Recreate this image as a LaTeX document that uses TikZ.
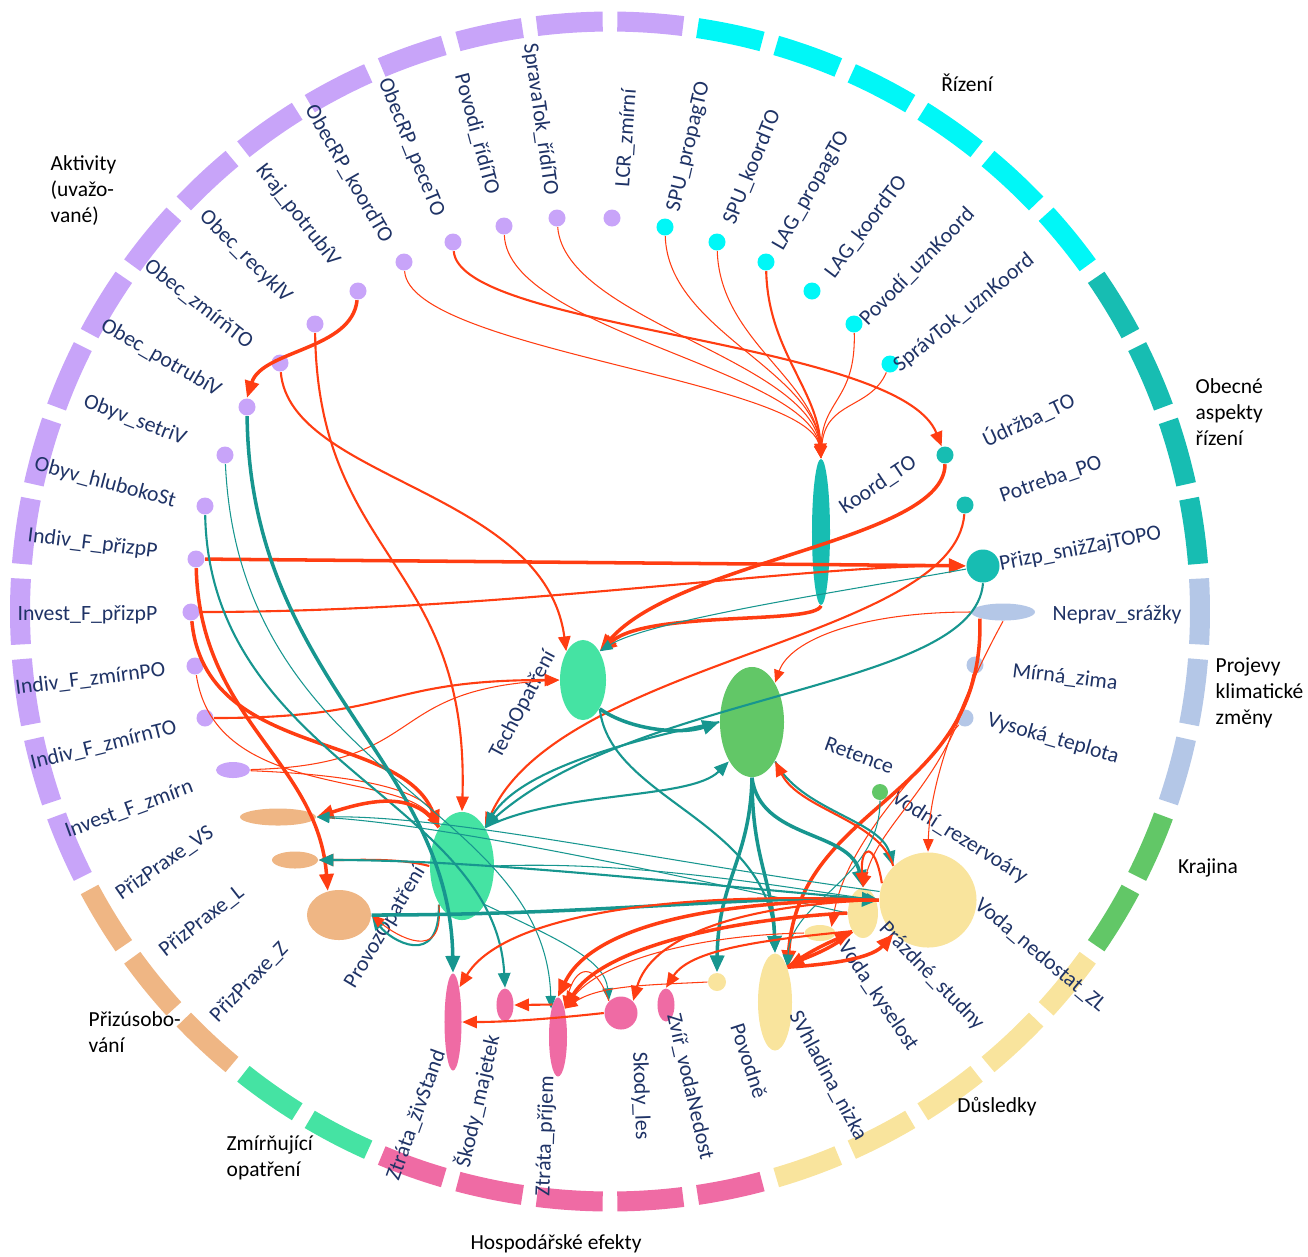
\documentclass[tikz,border=0pt]{standalone}
\usepackage{fontspec}
\setmainfont{Carlito}
\usetikzlibrary{arrows.meta,shapes.geometric}

\definecolor{akt}{HTML}{C8A4F9}
\definecolor{riz}{HTML}{00F7F7}
\definecolor{obe}{HTML}{17BDB2}
\definecolor{pro}{HTML}{B4C7E7}
\definecolor{kra}{HTML}{62C767}
\definecolor{dus}{HTML}{F9E49D}
\definecolor{hos}{HTML}{EF6BA4}
\definecolor{zmi}{HTML}{45E3A3}
\definecolor{pri}{HTML}{EFB684}
\definecolor{lblnavy}{HTML}{1F3366}
\definecolor{redE}{HTML}{FF3D12}
\definecolor{tealE}{HTML}{17968F}

\begin{document}
\begin{tikzpicture}[x=0.01cm, y=-0.01cm,
    lbl/.style={font=\fontsize{6.2}{7}\selectfont, text=lblnavy, inner sep=0pt},
    cat/.style={font=\fontsize{6.1}{7.4}\selectfont, align=left, inner sep=0pt},
    dot/.style={circle, inner sep=0pt, minimum size=0.17cm},
    oval/.style={ellipse, inner sep=0pt},
    redS/.style={draw=redE, line width=0.3pt, -{Triangle[length=3.6pt,width=3pt]}},
    redM/.style={draw=redE, line width=0.6pt, -{Triangle[length=4.2pt,width=3.5pt]}},
    redL/.style={draw=redE, line width=1pt, -{Triangle[length=4.8pt,width=4pt]}},
    tealS/.style={draw=tealE, line width=0.3pt, -{Triangle[length=3.6pt,width=3pt]}},
    tealM/.style={draw=tealE, line width=0.6pt, -{Triangle[length=4.2pt,width=3.5pt]}},
    tealL/.style={draw=tealE, line width=1pt, -{Triangle[length=4.8pt,width=4pt]}}]

    \useasboundingbox (0,0) rectangle (1308,1256);

    % Outer ring of dashes
    \foreach \ka/\kb/\col in {0/0/pro, 1/4/obe, 5/10/riz, 11/26/akt, 27/29/pri,
                              30/31/zmi, 32/36/hos, 37/41/dus, 42/43/kra, 44/45/pro}{
        \foreach \k in {\ka,...,\kb}{
            \pgfmathsetmacro{\a}{-\k*360/46}
            \draw[line width=0.2cm, draw=\col] (610,611.5) ++(\a+3.2:590)
                arc[start angle=\a+3.2, end angle=\a-3.2, radius=590];
        }
    }

    % Group names
    \node[cat, anchor=north west] (c-akt) at (50,155) {Aktivity\\(uvažo-\\vané)};
    \node[cat] (c-riz) at (967,83) {Řízení};
    \node[cat, anchor=north west] (c-obe) at (1195,378) {Obecné\\aspekty\\řízení};
    \node[cat, anchor=north west] (c-pro) at (1215,657) {Projevy\\klimatické\\změny};
    \node[cat] (c-kra) at (1208,868) {Krajina};
    \node[cat] (c-dus) at (997,1107) {Důsledky};
    \node[cat] (c-hos) at (556,1244) {Hospodářské efekty};
    \node[cat, anchor=north west] (c-zmi) at (226,1135) {Zmírňující\\opatření};
    \node[cat, anchor=north west] (c-pri) at (88,1011) {Přizúsobo-\\vání};

    % Aktivity
    \node[dot, fill=akt] (lcr) at (612,218) {};
    \node[dot, fill=akt] (spravatok) at (557,218) {};
    \node[dot, fill=akt] (povodi) at (504,226) {};
    \node[dot, fill=akt] (pece) at (453,242) {};
    \node[dot, fill=akt] (obkoord) at (404,262) {};
    \node[dot, fill=akt] (krajpot) at (358,291) {};
    \node[dot, fill=akt] (obrec) at (315,324) {};
    \node[dot, fill=akt] (obzmir) at (280,363) {};
    \node[dot, fill=akt] (obpot) at (247,407) {};
    \node[dot, fill=akt] (obsetri) at (225,455) {};
    \node[dot, fill=akt] (obhlub) at (205,506) {};
    \node[dot, fill=akt] (indprizp) at (196,559) {};
    \node[dot, fill=akt] (invprizp) at (191,612) {};
    \node[dot, fill=akt] (indzmpo) at (195,666) {};
    \node[dot, fill=akt] (indzmto) at (205,718) {};
    \node[oval, fill=akt, minimum width=0.34cm, minimum height=0.16cm] (invzmir) at (233,770) {};

    % Rizeni
    \node[dot, fill=riz] (spuprop) at (665,227) {};
    \node[dot, fill=riz] (spukoord) at (717,242) {};
    \node[dot, fill=riz] (lagprop) at (766,262) {};
    \node[dot, fill=riz] (lagkoord) at (812,291) {};
    \node[dot, fill=riz] (povuzn) at (854,324) {};
    \node[dot, fill=riz] (spruzn) at (890,364) {};

    % Obecne aspekty rizeni
    \node[oval, fill=obe, minimum width=0.18cm, minimum height=1.46cm] (koord) at (821,532) {};
    \node[dot, fill=obe] (udrzba) at (945,455) {};
    \node[dot, fill=obe] (potreba) at (965,505) {};
    \node[dot, fill=obe, minimum size=0.33cm] (prizsniz) at (983,566) {};

    % Projevy klimaticke zmeny
    \node[oval, fill=pro, minimum width=0.64cm, minimum height=0.17cm] (neprav) at (1003,612) {};
    \node[dot, fill=pro] (mirna) at (975,665) {};
    \node[dot, fill=pro] (vysoka) at (965,718) {};

    % Krajina
    \node[oval, fill=kra, minimum width=0.64cm, minimum height=1.1cm] (retence) at (752,722) {};
    \node[dot, fill=kra, minimum size=0.16cm] (vodrez) at (880,792) {};

    % Dusledky
    \node[oval, fill=dus, minimum width=0.97cm, minimum height=0.95cm] (vodanedost) at (928,900) {};
    \node[oval, fill=dus, minimum width=0.3cm, minimum height=0.5cm] (prazdne) at (863,913) {};
    \node[oval, fill=dus, minimum width=0.31cm, minimum height=0.16cm] (kyselost) at (820,933) {};
    \node[oval, fill=dus, minimum width=0.34cm, minimum height=0.97cm] (svhl) at (775,1002) {};
    \node[dot, fill=dus, minimum size=0.18cm] (povodne) at (717,982) {};

    % Hospodarske efekty
    \node[oval, fill=hos, minimum width=0.17cm, minimum height=0.33cm] (zvir) at (666,1005) {};
    \node[dot, fill=hos, minimum size=0.33cm] (les) at (621,1013) {};
    \node[oval, fill=hos, minimum width=0.18cm, minimum height=0.79cm] (prijem) at (558,1037) {};
    \node[oval, fill=hos, minimum width=0.17cm, minimum height=0.33cm] (majetek) at (505,1005) {};
    \node[oval, fill=hos, minimum width=0.17cm, minimum height=0.97cm] (zivstand) at (453,1022) {};

    % Zmirnujici opatreni
    \node[oval, fill=zmi, minimum width=0.46cm, minimum height=0.8cm] (tech) at (583,680) {};
    \node[oval, fill=zmi, minimum width=0.64cm, minimum height=1.08cm] (provoz) at (462,866) {};

    % Prizpusobovani
    \node[oval, fill=pri, minimum width=0.76cm, minimum height=0.17cm] (prizvs) at (278,817) {};
    \node[oval, fill=pri, minimum width=0.46cm, minimum height=0.17cm] (prizl) at (295,860) {};
    \node[oval, fill=pri, minimum width=0.64cm, minimum height=0.5cm] (prizz) at (339,915) {};

    % Node labels
    \node[lbl, rotate=86, anchor=west] (l-lcr) at (623,188) {LCR\_zmírní};
    \node[lbl, rotate=-82, anchor=east] (l-spravatok) at (551,196) {SpravaTok\_řídíTO};
    \node[lbl, rotate=-75, anchor=east] (l-povodi) at (493,195) {Povodi\_řídíTO};
    \node[lbl, rotate=-68, anchor=east] (l-pece) at (439,216) {ObecRP\_peceTO};
    \node[lbl, rotate=-60, anchor=east] (l-obkoord) at (388,242) {ObecRP\_koordTO};
    \node[lbl, rotate=-52, anchor=east] (l-krajpot) at (336,264) {Kraj\_potrubíV};
    \node[lbl, rotate=-45, anchor=east] (l-obrec) at (289,300) {Obec\_recyklV};
    \node[lbl, rotate=-38, anchor=east] (l-obzmir) at (251,345) {Obec\_zmírňTO};
    \node[lbl, rotate=-30, anchor=east] (l-obpot) at (220,392) {Obec\_potrubíV};
    \node[lbl, rotate=-21, anchor=east] (l-obsetri) at (186,440) {Obyv\_setriV};
    \node[lbl, rotate=-15, anchor=east] (l-obhlub) at (176,502) {Obyv\_hlubokoSt};
    \node[lbl, rotate=-7, anchor=east] (l-indprizp) at (158,552) {Indiv\_F\_přizpP};
    \node[lbl, anchor=east] (l-invprizp) at (158,615) {Invest\_F\_přizpP};
    \node[lbl, rotate=7, anchor=east] (l-indzmpo) at (166,670) {Indiv\_F\_zmírnPO};
    \node[lbl, rotate=14, anchor=east] (l-indzmto) at (177,727) {Indiv\_F\_zmírnTO};
    \node[lbl, rotate=20, anchor=east] (l-invzmir) at (193,786) {Invest\_F\_zmírn};
    \node[lbl, rotate=77, anchor=west] (l-spuprop) at (674,212) {SPU\_propagTO};
    \node[lbl, rotate=68, anchor=west] (l-spukoord) at (729,224) {SPU\_koordTO};
    \node[lbl, rotate=60, anchor=west] (l-lagprop) at (778,249) {LAG\_propagTO};
    \node[lbl, rotate=53, anchor=west] (l-lagkoord) at (829,276) {LAG\_koordTO};
    \node[lbl, rotate=46, anchor=west] (l-povuzn) at (863,323) {Povodí\_uznKoord};
    \node[lbl, rotate=39, anchor=west] (l-spruzn) at (896,368) {SprávTok\_uznKoord};
    \node[lbl, rotate=34, anchor=west] (l-koord) at (841,510) {Koord\_TO};
    \node[lbl, rotate=25, anchor=west] (l-udrzba) at (983,441) {Údržba\_TO};
    \node[lbl, rotate=19, anchor=west] (l-potreba) at (1000,497) {Potreba\_PO};
    \node[lbl, rotate=11, anchor=west] (l-prizsniz) at (999,565) {Přizp\_snižZajTOPO};
    \node[lbl, anchor=west] (l-neprav) at (1052,615) {Neprav\_srážky};
    \node[lbl, rotate=-7, anchor=west] (l-mirna) at (1012,671) {Mírná\_zima};
    \node[lbl, rotate=-16, anchor=west] (l-vysoka) at (987,720) {Vysoká\_teplota};
    \node[lbl, rotate=-20, anchor=west] (l-retence) at (825,743) {Retence};
    \node[lbl, rotate=-32, anchor=west] (l-vodrez) at (893,796) {Vodní\_rezervoáry};
    \node[lbl, rotate=-40, anchor=west] (l-vodanedost) at (977,902) {Voda\_nedostat\_ZL};
    \node[lbl, rotate=-46, anchor=west] (l-prazdne) at (882,925) {Prázdné\_studny};
    \node[lbl, rotate=-56, anchor=west] (l-kyselost) at (842,943) {Voda\_kyselost};
    \node[lbl, rotate=-62, anchor=west] (l-svhl) at (794,1012) {SVhladina\_nizka};
    \node[lbl, rotate=-72, anchor=west] (l-povodne) at (737,1023) {Povodně};
    \node[lbl, rotate=-77, anchor=west] (l-zvir) at (673,1013) {Zvíř\_vodaNedost};
    \node[lbl, rotate=-88, anchor=west] (l-les) at (639,1052) {Skody\_les};
    \node[lbl, rotate=88, anchor=east] (l-prijem) at (548,1075) {Ztráta\_příjem};
    \node[lbl, rotate=77, anchor=east] (l-majetek) at (493,1035) {Škody\_majetek};
    \node[lbl, rotate=70, anchor=east] (l-zivstand) at (440,1050) {Ztráta\_živStand};
    \node[lbl, rotate=62, anchor=east] (l-tech) at (551,652) {TechOpatření};
    \node[lbl, rotate=59, anchor=east] (l-provoz) at (421,868) {ProvozOpatření};
    \node[lbl, rotate=35, anchor=east] (l-prizvs) at (212,830) {PřizPraxe\_VS};
    \node[lbl, rotate=38, anchor=east] (l-prizl) at (242,890) {PřizPraxe\_L};
    \node[lbl, rotate=46, anchor=east] (l-prizz) at (285,945) {PřizPraxe\_Z};

    % Rizeni -> Koord_TO
    \draw[redS] (obkoord) .. controls (410,350) and (810,380) .. (koord.north);
    \draw[redS] (povodi) .. controls (508,330) and (810,370) .. (koord.north);
    \draw[redS] (spravatok) .. controls (565,320) and (812,360) .. (koord.north);
    \draw[redS] (spuprop) .. controls (668,330) and (815,370) .. (koord.north);
    \draw[redS] (spukoord) .. controls (720,340) and (816,380) .. (koord.north);
    \draw[redM] (lagprop) .. controls (768,350) and (818,390) .. (koord.north);
    \draw[redS] (povuzn) .. controls (856,400) and (822,400) .. (koord.north);
    \draw[redS] (spruzn) .. controls (870,410) and (825,400) .. (koord.north);

    % Obecne aspekty
    \draw[redM] (pece) .. controls (460,330) and (900,340) .. (udrzba);
    \draw[redL] (udrzba) .. controls (945,540) and (680,560) .. (tech.north east);
    \draw[redL] (koord.south) .. controls (815,625) and (650,610) .. (tech.north east);
    \draw[redL] (indprizp) -- (prizsniz);
    \draw[redM] (invprizp) .. controls (500,612) and (800,565) .. (prizsniz);
    \draw[redM] (potreba) .. controls (955,640) and (560,660) .. (provoz.north east);
    \draw[tealS] (prizsniz) .. controls (850,590) and (650,620) .. (tech.north east);
    \draw[tealM] (prizsniz.south) .. controls (975,690) and (640,690) .. (provoz.60);

    % Projevy
    \draw[redS] (neprav.west) .. controls (860,612) and (790,640) .. (retence.north east);
    \draw[redL] (neprav.south west) .. controls (985,800) and (800,800) .. (svhl.north east);
    \draw[redS] (neprav.south) .. controls (960,700) and (930,780) .. (vodanedost.north);
    \draw[redS] (mirna) .. controls (950,780) and (880,820) .. (prazdne.north);
    \draw[redS] (vysoka) .. controls (900,790) and (845,850) .. (kyselost.north east);

    % Aktivity
    \draw[redL] (krajpot) .. controls (352,350) and (262,350) .. (obpot.north);
    \draw[redM] (obrec) .. controls (318,560) and (470,560) .. (provoz.north);
    \draw[redM] (obzmir) .. controls (290,480) and (545,490) .. (tech.north west);
    \draw[redL] (indprizp) .. controls (200,720) and (318,760) .. (prizz.115);
    \draw[redL] (invprizp) .. controls (205,760) and (400,730) .. (provoz.north west);
    \draw[redS] (indzmpo) .. controls (215,800) and (400,770) .. (provoz.north west);
    \draw[redM] (indzmto) .. controls (400,718) and (380,680) .. (tech.west);
    \draw[redS] (invzmir) .. controls (430,765) and (380,690) .. (tech.west);
    \draw[redS] (invzmir) .. controls (360,775) and (425,790) .. (provoz.north west);
    \draw[tealL] (obpot) .. controls (250,680) and (450,760) .. (zivstand.north);
    \draw[tealM] (obhlub) .. controls (210,760) and (495,800) .. (majetek.north);
    \draw[tealS] (obsetri) .. controls (240,780) and (545,800) .. (prijem.north west);

    % Zmirnujici opatreni and Prizpusobovani
    \draw[redL] (provoz.north west) .. controls (415,790) and (370,800) .. (prizvs.east);
    \draw[redM] (provoz.west) .. controls (400,858) and (360,860) .. (prizl.east);
    \draw[tealM] (provoz.south west) .. controls (440,970) and (390,940) .. (prizz.east);
    \draw[redS] (provoz.south west) .. controls (445,965) and (395,935) .. (prizz.east);
    \draw[tealL] (prizz.east) .. controls (600,915) and (750,895) .. (vodanedost.west);
    \draw[tealL] (tech.south east) .. controls (630,730) and (680,735) .. (retence.west);
    \draw[tealM] (tech.south east) .. controls (610,800) and (770,820) .. (svhl.north);
    \draw[tealM] (provoz.north east) .. controls (560,790) and (690,800) .. (retence.south west);
    \draw[tealM] (retence.west) .. controls (630,740) and (520,770) .. (provoz.north east);
    \draw[tealS] (provoz.east) .. controls (640,860) and (800,890) .. (vodanedost.west);
    \draw[tealS] (provoz.south east) .. controls (560,940) and (605,960) .. (les.north west);

    % Krajina
    \draw[tealL] (retence.south) .. controls (750,860) and (718,880) .. (povodne.north);
    \draw[tealL] (retence.south) .. controls (752,860) and (773,880) .. (svhl.north);
    \draw[tealL] (retence.south) .. controls (760,840) and (850,830) .. (prazdne.north);
    \draw[tealM] (retence.south east) .. controls (800,810) and (880,820) .. (vodanedost.north west);
    \draw[redM] (vodanedost.north west) .. controls (880,820) and (800,810) .. (retence.south east);
    \draw[tealS] (vodrez) .. controls (880,880) and (790,900) .. (svhl.north east);

    % Dusledky
    \draw[redM] (vodanedost.160) .. controls (875,840) and (860,845) .. (prazdne.north);
    \draw[tealM] (vodanedost.west) .. controls (650,880) and (480,860) .. (prizl.east);
    \draw[tealS] (vodanedost.170) .. controls (650,860) and (450,815) .. (prizvs.east);
    \draw[tealS] (prazdne.west) .. controls (700,880) and (450,825) .. (prizvs.east);
    \draw[redL] (svhl.north east) .. controls (810,950) and (835,940) .. (prazdne.south west);
    \draw[redL] (prazdne.south west) .. controls (835,948) and (805,958) .. (svhl.north east);
    \draw[redL] (svhl.north east) .. controls (820,965) and (870,960) .. (vodanedost.south west);
    \draw[redM] (vodanedost.west) .. controls (650,890) and (500,920) .. (zivstand.north east);
    \draw[redL] (vodanedost.west) .. controls (700,900) and (590,930) .. (prijem.north);
    \draw[redL] (prazdne.west) .. controls (720,920) and (600,950) .. (prijem.north east);
    \draw[redM] (prazdne.south west) .. controls (760,940) and (690,950) .. (zvir.north);
    \draw[redM] (vodanedost.west) .. controls (730,905) and (650,940) .. (les.north east);
    \draw[redS] (kyselost.west) .. controls (700,935) and (600,960) .. (prijem.north east);
    \draw[redS] (povodne.west) .. controls (650,985) and (600,985) .. (prijem.north east);

    % Hospodarske efekty
    \draw[redM] (les.west) .. controls (540,1020) and (500,1022) .. (zivstand.east);
    \draw[redM] (prijem.100) -- (majetek.east);
    \draw[redS] (les.north west) .. controls (595,960) and (575,965) .. (prijem.north east);

\end{tikzpicture}
\end{document}
